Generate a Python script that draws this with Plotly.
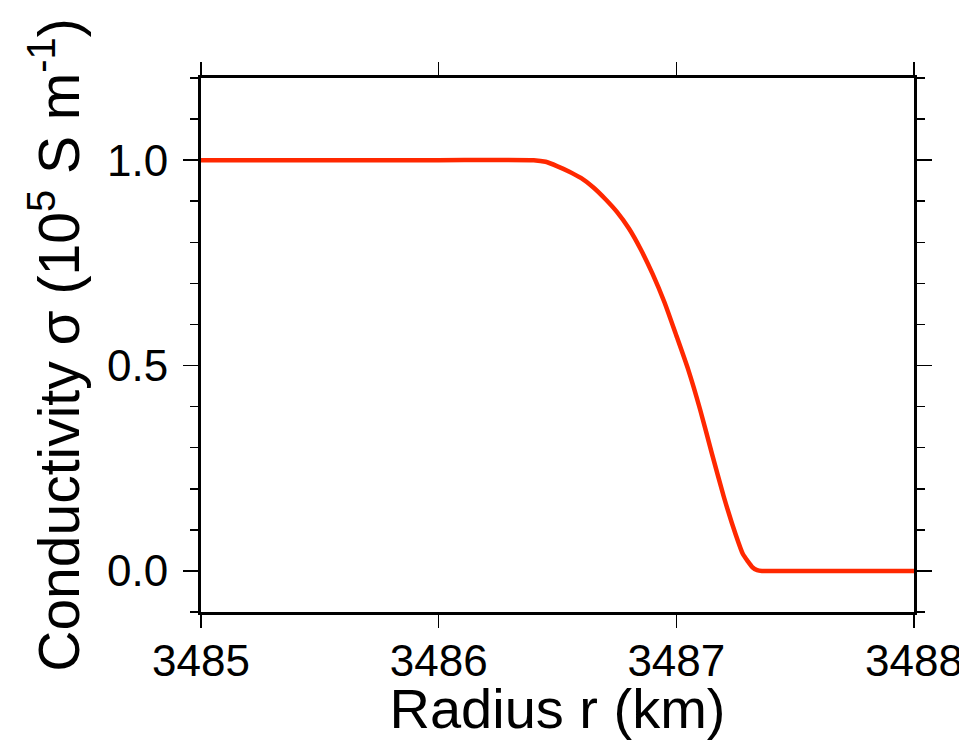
import plotly.graph_objects as go

# Radius (km) and conductivity (10^5 S/m)
radius_km = [3485.0, 3486.0, 3486.40, 3486.45, 3486.50, 3486.55, 3486.60, 3486.65,
             3486.70, 3486.75, 3486.80, 3486.85, 3486.90, 3486.95, 3487.00, 3487.05,
             3487.10, 3487.15, 3487.20, 3487.25, 3487.28, 3487.30, 3487.32, 3487.34,
             3487.36, 3487.50, 3488.0]
conductivity = [1.000, 1.000, 1.000, 0.996, 0.985, 0.972, 0.956, 0.934,
                0.906, 0.874, 0.834, 0.783, 0.723, 0.654, 0.573, 0.490,
                0.393, 0.285, 0.180, 0.088, 0.041, 0.024, 0.009, 0.002,
                0.000, 0.000, 0.000]

x_range = [3485, 3488]
y_range = [-0.1, 1.2]

FONT = "Liberation Sans, Arial, Helvetica, sans-serif"

fig = go.Figure()
fig.add_trace(go.Scatter(
    x=radius_km, y=conductivity, mode="lines",
    line=dict(color="rgb(255,40,0)", width=4.5, shape="spline", smoothing=0.5),
    showlegend=False, hoverinfo="skip",
))

fig.update_layout(
    width=959, height=740,
    margin=dict(l=201, r=45, t=78, b=128, pad=0),
    paper_bgcolor="white", plot_bgcolor="white",
    font=dict(family=FONT, color="black"),
)

fig.update_xaxes(
    range=x_range, dtick=1, tick0=3485,
    showgrid=False, zeroline=False,
    showline=True, linecolor="black", linewidth=3, mirror="ticks",
    ticks="outside", ticklen=13, tickwidth=1.5, tickcolor="black",
    tickfont=dict(size=44, family=FONT, color="black"),
    ticklabelstandoff=-5, ticklabeloverflow="allow",
    title=dict(text="Radius r (km)", font=dict(size=56, family=FONT, color="black"), standoff=5),
    automargin=False,
)
fig.update_yaxes(
    range=y_range, dtick=0.5, tick0=0, tickformat=".1f",
    showgrid=False, zeroline=False,
    showline=True, linecolor="black", linewidth=3, mirror="ticks",
    ticks="outside", ticklen=15, tickwidth=1.5, tickcolor="black",
    minor=dict(dtick=0.1, tick0=0, ticks="outside", ticklen=8, tickwidth=1.5,
               tickcolor="black", showgrid=False),
    tickfont=dict(size=44, family=FONT, color="black"),
    ticklabelstandoff=6,
    title=dict(text="Conductivity σ (10<sup>5</sup> S m<sup>-1</sup>)",
               font=dict(size=57, family=FONT, color="black"), standoff=10),
    automargin=False,
)

fig.write_html("out.html", config={"displayModeBar": False, "staticPlot": True},
               post_script="document.body.style.margin='0';")
